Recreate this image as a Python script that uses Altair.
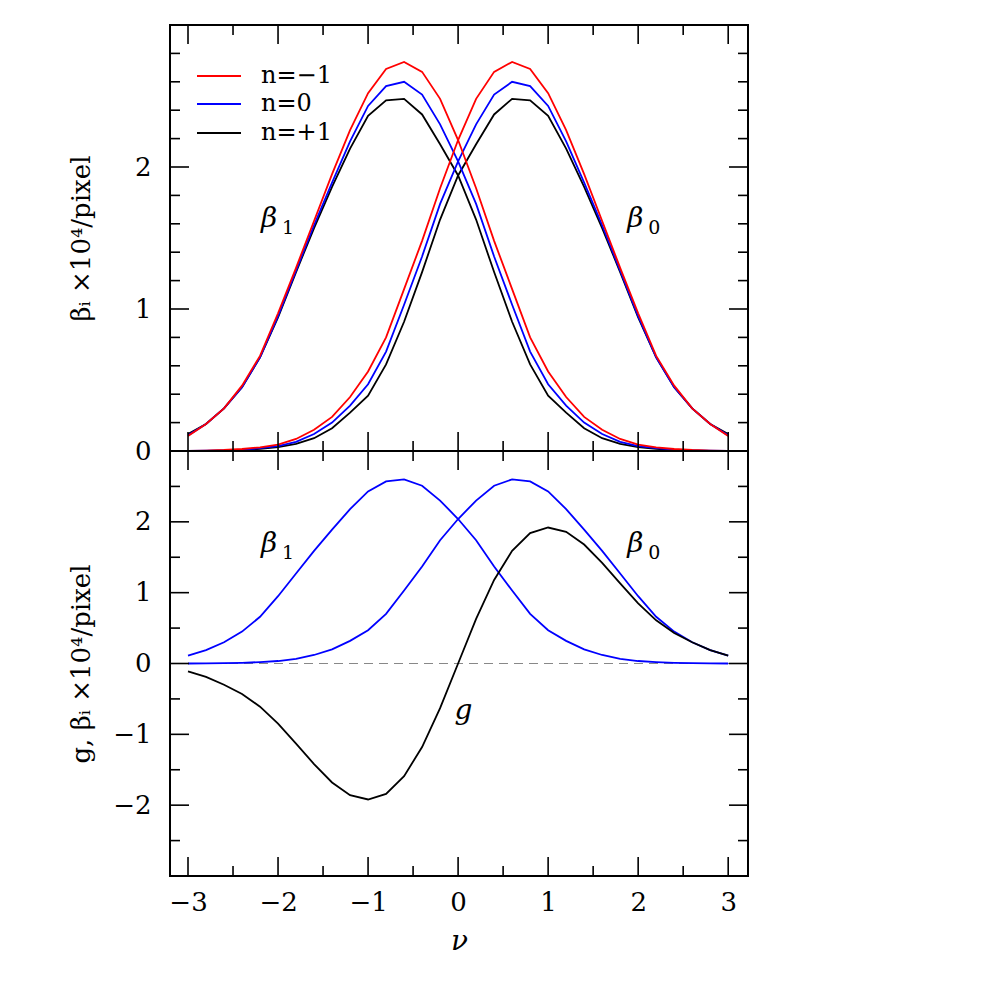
import altair as alt
import pandas as pd

# ---------------- data ----------------
nu = [-3.0, -2.8, -2.6, -2.4, -2.2, -2.0, -1.8, -1.6, -1.4, -1.2, -1.0,
      -0.8, -0.6, -0.4, -0.2, 0.0, 0.2, 0.4, 0.6, 0.8, 1.0,
      1.2, 1.4, 1.6, 1.8, 2.0, 2.2, 2.4, 2.6, 2.8, 3.0]

# beta_0 (peak near +0.6)
beta0_nm1 = [0.000, 0.003, 0.007, 0.014, 0.026, 0.045, 0.085, 0.15, 0.24, 0.38, 0.56,
             0.80, 1.14, 1.48, 1.85, 2.19, 2.48, 2.67, 2.74, 2.69, 2.52,
             2.26, 1.95, 1.62, 1.29, 0.97, 0.67, 0.46, 0.30, 0.19, 0.105]
beta0_n0 = [0.000, 0.002, 0.005, 0.010, 0.020, 0.035, 0.065, 0.12, 0.20, 0.32, 0.47,
            0.70, 1.03, 1.37, 1.74, 2.04, 2.30, 2.51, 2.60, 2.57, 2.43,
            2.18, 1.89, 1.59, 1.27, 0.95, 0.66, 0.45, 0.30, 0.19, 0.11]
beta0_np1 = [0.000, 0.001, 0.003, 0.007, 0.015, 0.028, 0.050, 0.09, 0.16, 0.27, 0.39,
             0.61, 0.91, 1.26, 1.63, 1.94, 2.16, 2.37, 2.48, 2.47, 2.36,
             2.13, 1.86, 1.57, 1.26, 0.94, 0.66, 0.45, 0.30, 0.19, 0.12]

# beta_1 (peak near -0.6)
beta1_nm1 = [0.105, 0.19, 0.30, 0.46, 0.67, 0.97, 1.29, 1.62, 1.95, 2.26, 2.52,
             2.69, 2.74, 2.67, 2.48, 2.19, 1.85, 1.48, 1.14, 0.80, 0.56,
             0.38, 0.24, 0.15, 0.085, 0.045, 0.026, 0.014, 0.007, 0.003, 0.000]
beta1_n0 = [0.11, 0.19, 0.30, 0.45, 0.66, 0.95, 1.27, 1.59, 1.89, 2.18, 2.43,
            2.57, 2.60, 2.51, 2.30, 2.04, 1.74, 1.37, 1.03, 0.70, 0.47,
            0.32, 0.20, 0.12, 0.065, 0.035, 0.020, 0.010, 0.005, 0.002, 0.000]
beta1_np1 = [0.12, 0.19, 0.30, 0.45, 0.66, 0.94, 1.26, 1.57, 1.86, 2.13, 2.36,
             2.47, 2.48, 2.37, 2.16, 1.94, 1.63, 1.26, 0.91, 0.61, 0.39,
             0.27, 0.16, 0.09, 0.050, 0.028, 0.015, 0.007, 0.003, 0.001, 0.000]

g_vals = [-0.11, -0.19, -0.30, -0.43, -0.61, -0.85, -1.13, -1.42, -1.68, -1.86, -1.92,
          -1.84, -1.59, -1.18, -0.63, 0.00, 0.63, 1.18, 1.59, 1.84, 1.92,
          1.86, 1.68, 1.42, 1.13, 0.85, 0.61, 0.43, 0.30, 0.19, 0.11]

legend_labels = ["n=\u22121", "n=0", "n=+1"]
legend_colors = ["#ff0000", "#0000ff", "#000000"]

x_major = [-3, -2, -1, 0, 1, 2, 3]
x_minor = [-2.5, -1.5, -0.5, 0.5, 1.5, 2.5]
top_y_major = [1, 2]
top_y_minor = [0.2, 0.4, 0.6, 0.8, 1.2, 1.4, 1.6, 1.8, 2.2, 2.4, 2.6, 2.8]
bot_y_major = [-2, -1, 0, 1, 2]
bot_y_minor = [-2.5, -1.5, -0.5, 0.5, 1.5, 2.5]
top_y_labels = [0, 1, 2]
bot_y_labels = [-2, -1, 0, 1, 2]
zero_line = [0.0]

# annotation positions (data units)
ann_top_x = [-2.19, 1.88]
ann_top_y = [1.58, 1.58]
ann_bot_x = [-2.19, 1.88]
ann_bot_y = [1.58, 1.58]
ann_sub = ["1", "0"]
g_label_x = [-0.04]
g_label_y = [-0.79]

# ---------------- styling ----------------
W = 578
HT = 426
HB = 425
FONT = "DejaVu Serif"
LW = 1.8
MAJ = 19
MIN = 10

xs = alt.Scale(domain=[-3.2, 3.22], nice=False, zero=False)
ys_top = alt.Scale(domain=[0, 3.0], nice=False, zero=False)
ys_bot = alt.Scale(domain=[-3, 3], nice=False, zero=False)

yaxis_common = dict(ticks=False, domain=False, grid=False,
                    labelFont=FONT, labelFontSize=26, labelColor="black", labelPadding=19,
                    titleFont=FONT, titleFontSize=26, titleFontWeight="normal", titleColor="black",
                    titleAngle=270, titleAlign="center", titleBaseline="middle", titleX=-89,
                    format="d")

AX_TOP_Y = alt.Axis(values=top_y_labels, title="\u03b2\u1d62 \u00d710\u2074/pixel",
                    titleY=HT / 2, **yaxis_common)
AX_BOT_Y = alt.Axis(values=bot_y_labels, title="g, \u03b2\u1d62 \u00d710\u2074/pixel",
                    titleY=HB / 2, **yaxis_common)
AX_BOT_X = alt.Axis(values=x_major, format="d", title="\u03bd", ticks=False,
                    domain=False, grid=False, labelFont=FONT, labelFontSize=26,
                    labelColor="black", labelPadding=13, titleFont=FONT,
                    titleFontSize=28, titleFontStyle="italic", titleFontWeight="normal",
                    titleColor="black", titlePadding=12)


def curve_df(a, b):
    return pd.DataFrame({
        "nu": nu * 2,
        "val": list(a) + list(b),
        "curve": ["b0"] * len(nu) + ["b1"] * len(nu),
    })


def xticks(H, xaxis):
    layers = []
    for vals, ln in ((x_major, MAJ), (x_minor, MIN)):
        df = pd.DataFrame({"t": vals})
        base = alt.Chart(df).mark_rule(color="black", strokeWidth=1.6)
        layers.append(base.encode(x=alt.X("t:Q", scale=xs, axis=xaxis),
                                  y=alt.value(0), y2=alt.value(ln)))
        layers.append(base.encode(x=alt.X("t:Q", scale=xs, axis=xaxis),
                                  y=alt.value(H), y2=alt.value(H - ln)))
    return layers


def yticks(major, minor, ys, yaxis):
    layers = []
    for vals, ln in ((major, MAJ), (minor, MIN)):
        df = pd.DataFrame({"t": vals})
        base = alt.Chart(df).mark_rule(color="black", strokeWidth=1.6)
        layers.append(base.encode(y=alt.Y("t:Q", scale=ys, axis=yaxis),
                                  x=alt.value(0), x2=alt.value(ln)))
        layers.append(base.encode(y=alt.Y("t:Q", scale=ys, axis=yaxis),
                                  x=alt.value(W), x2=alt.value(W - ln)))
    return layers


def beta_labels(xv, yv, ys, xaxis, yaxis):
    df = pd.DataFrame({"x": xv, "y": yv, "s": ann_sub})
    b = alt.Chart(df).mark_text(text="\u03b2", font=FONT, fontSize=28, fontStyle="italic",
                                align="left", baseline="alphabetic", color="black").encode(
        x=alt.X("x:Q", scale=xs, axis=xaxis), y=alt.Y("y:Q", scale=ys, axis=yaxis))
    s = alt.Chart(df).mark_text(font=FONT, fontSize=19, align="left", baseline="alphabetic",
                                dx=21, dy=7, color="black").encode(
        x=alt.X("x:Q", scale=xs, axis=xaxis), y=alt.Y("y:Q", scale=ys, axis=yaxis), text="s:N")
    return [b, s]


# ---------------- top panel ----------------
top_layers = []
series = [(beta0_np1, beta1_np1, "#000000"), (beta0_n0, beta1_n0, "#0000ff"),
          (beta0_nm1, beta1_nm1, "#ff0000")]
for a, b, col in series:
    top_layers.append(
        alt.Chart(curve_df(a, b)).mark_line(color=col, strokeWidth=LW).encode(
            x=alt.X("nu:Q", scale=xs, axis=None),
            y=alt.Y("val:Q", scale=ys_top, axis=AX_TOP_Y),
            detail="curve:N",
        )
    )
top_layers += xticks(HT, None) + yticks(top_y_major, top_y_minor, ys_top, AX_TOP_Y)
top_layers += beta_labels(ann_top_x, ann_top_y, ys_top, None, AX_TOP_Y)

# legend (placed in pixels inside the frame, top-left)
leg_y = [51, 79, 108]
for lab, col, yy in zip(legend_labels, legend_colors, leg_y):
    top_layers.append(alt.Chart(pd.DataFrame({"l": [lab]})).mark_rule(color=col, strokeWidth=LW).encode(
        x=alt.value(27), x2=alt.value(71), y=alt.value(yy)))
    top_layers.append(alt.Chart(pd.DataFrame({"l": [lab]})).mark_text(
        font=FONT, fontSize=24, align="left", baseline="middle", color="black").encode(
        x=alt.value(91), y=alt.value(yy), text="l:N"))

top = alt.layer(*top_layers).properties(width=W, height=HT)

# ---------------- bottom panel ----------------
bot_layers = []
bot_layers.append(
    alt.Chart(pd.DataFrame({"z": zero_line})).mark_rule(color="#888888", strokeWidth=1.2,
                                                         strokeDash=[9, 6]).encode(
        y=alt.Y("z:Q", scale=ys_bot, axis=AX_BOT_Y))
)
bot_layers.append(
    alt.Chart(curve_df(beta0_n0, beta1_n0)).mark_line(color="#0000ff", strokeWidth=LW).encode(
        x=alt.X("nu:Q", scale=xs, axis=AX_BOT_X),
        y=alt.Y("val:Q", scale=ys_bot, axis=AX_BOT_Y),
        detail="curve:N",
    )
)
bot_layers.append(
    alt.Chart(pd.DataFrame({"nu": nu, "g": g_vals})).mark_line(color="#000000", strokeWidth=LW).encode(
        x=alt.X("nu:Q", scale=xs, axis=AX_BOT_X),
        y=alt.Y("g:Q", scale=ys_bot, axis=AX_BOT_Y),
    )
)
bot_layers += xticks(HB, AX_BOT_X) + yticks(bot_y_major, bot_y_minor, ys_bot, AX_BOT_Y)
bot_layers += beta_labels(ann_bot_x, ann_bot_y, ys_bot, AX_BOT_X, AX_BOT_Y)
bot_layers.append(
    alt.Chart(pd.DataFrame({"x": g_label_x, "y": g_label_y})).mark_text(
        text="g", font=FONT, fontSize=28, fontStyle="italic", align="left",
        baseline="alphabetic", color="black").encode(
        x=alt.X("x:Q", scale=xs, axis=AX_BOT_X), y=alt.Y("y:Q", scale=ys_bot, axis=AX_BOT_Y))
)

bottom = alt.layer(*bot_layers).properties(width=W, height=HB)

chart = alt.vconcat(top, bottom, spacing=0, bounds="flush").properties(
    padding={"left": 59, "top": 15, "right": 20, "bottom": 20}
).configure_view(stroke="black", strokeWidth=2)

chart.save("out.html", embed_options={"renderer": "svg", "actions": False})
